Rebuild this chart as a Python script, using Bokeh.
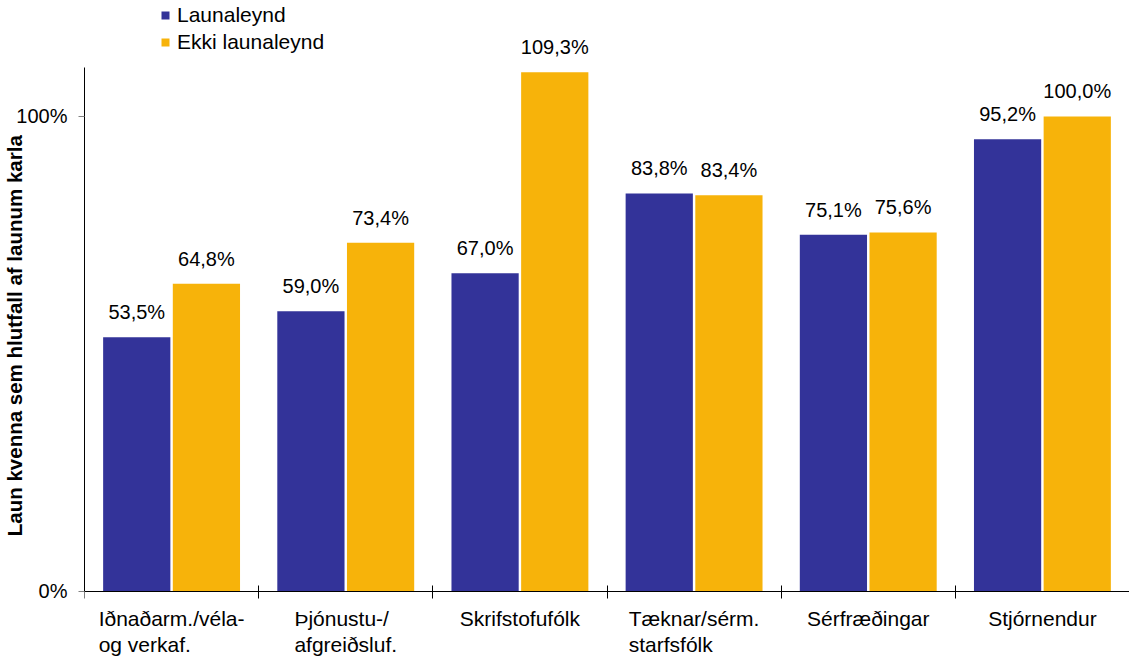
from bokeh.plotting import figure
from bokeh.models import (Range1d, FixedTicker, LinearAxis, ColumnDataSource, LabelSet, Legend, LegendItem)
from bokeh.embed import file_html
from bokeh.resources import INLINE
from bokeh.core.properties import value

categories = ["Iðnaðarm./véla-\nog verkaf.", "Þjónustu-/\nafgreiðsluf.", "Skrifstofufólk",
              "Tæknar/sérm.\nstarfsfólk", "Sérfræðingar", "Stjórnendur"]
series_names = ["Launaleynd", "Ekki launaleynd"]
launaleynd = [53.5, 59.0, 67.0, 83.8, 75.1, 95.2]
ekki_launaleynd = [64.8, 73.4, 109.3, 83.4, 75.6, 100.0]
y_ticks = [0, 100]
y_tick_labels = ["0%", "100%"]
y_title = "Laun kvenna sem hlutfall af launum karla"

BLUE = "#333399"
YELLOW = "#F7B30A"
FONT = "Liberation Sans"

n = len(categories)
centers = [i + 0.5 for i in range(n)]
boundaries = list(range(n + 1))
off = 0.2
width = 0.386

def fmt(v):
    return ("%.1f" % v).replace(".", ",") + "%"

src_a = ColumnDataSource(dict(x=[c - off for c in centers], top=launaleynd,
                              lab=[fmt(v) for v in launaleynd]))
src_b = ColumnDataSource(dict(x=[c + off for c in centers], top=ekki_launaleynd,
                              lab=[fmt(v) for v in ekki_launaleynd]))
src_cat = ColumnDataSource(dict(x=centers, y=[0] * n, lab=categories))

p = figure(width=1129, height=659, x_range=Range1d(0, n), y_range=Range1d(-14.32, 124.42),
           output_backend="svg", toolbar_location=None, x_axis_type=None, y_axis_type=None,
           min_border_left=77, min_border_right=0, min_border_top=0, min_border_bottom=0)
p.outline_line_color = None
p.grid.visible = False
p.background_fill_color = "white"
p.border_fill_color = "white"

ra = p.vbar(x="x", top="top", width=width, bottom=0, source=src_a, fill_color=BLUE, line_color=None)
rb = p.vbar(x="x", top="top", width=width, bottom=0, source=src_b, fill_color=YELLOW, line_color=None)

for src in (src_a, src_b):
    p.add_layout(LabelSet(x="x", y="top", text="lab", source=src, text_align="center",
                          text_baseline="middle", y_offset=25, text_font=value(FONT),
                          text_font_size="20px", text_color="#000000"))

# category labels under the x axis line
p.add_layout(LabelSet(x="x", y="y", text="lab", source=src_cat, text_align="center",
                      text_baseline="top", y_offset=-16, text_font=value(FONT),
                      text_font_size="21px", text_color="#000000", text_line_height=1.13))

# y axis
yaxis = LinearAxis(ticker=FixedTicker(ticks=y_ticks, minor_ticks=[]), bounds=(0, 110.3))
yaxis.major_label_overrides = {t: l for t, l in zip(y_ticks, y_tick_labels)}
yaxis.major_tick_in = 0
yaxis.major_tick_out = 6
yaxis.major_tick_line_color = "#808080"
yaxis.minor_tick_line_color = None
yaxis.axis_line_color = "#000000"
yaxis.major_label_text_font = FONT
yaxis.major_label_text_font_size = "20px"
yaxis.major_label_text_color = "#000000"
yaxis.major_label_standoff = 11
yaxis.axis_label = y_title + "\u00a0" * 2
yaxis.axis_label_text_font = FONT
yaxis.axis_label_text_font_size = "20.5px"
yaxis.axis_label_text_font_style = "bold"
yaxis.axis_label_text_color = "#000000"
yaxis.axis_label_standoff = -13
p.add_layout(yaxis, "left")

# x axis line at y=0 with boundary ticks pointing up
xaxis = LinearAxis(ticker=FixedTicker(ticks=[], minor_ticks=boundaries), fixed_location=0,
                   bounds=(0, n))
xaxis.major_tick_in = 0
xaxis.major_tick_out = 0
xaxis.minor_tick_in = 6
xaxis.minor_tick_out = 0
xaxis.minor_tick_line_color = "#000000"
xaxis.axis_line_color = "#000000"
xaxis.major_label_standoff = 0
xaxis.major_label_text_font_size = "0px"
p.add_layout(xaxis, "below")

# same boundary ticks continuing below the line
xaxis2 = LinearAxis(ticker=FixedTicker(ticks=[], minor_ticks=boundaries), fixed_location=0,
                    bounds=(0, n))
xaxis2.major_tick_in = 0
xaxis2.major_tick_out = 0
xaxis2.minor_tick_in = 7
xaxis2.minor_tick_out = 0
xaxis2.minor_tick_line_color = "#000000"
xaxis2.axis_line_color = None
xaxis2.major_label_standoff = 0
xaxis2.major_label_text_font_size = "0px"
p.add_layout(xaxis2, "above")

legend = Legend(items=[LegendItem(label=series_names[0], renderers=[ra]),
                       LegendItem(label=series_names[1], renderers=[rb])],
                location=(76, 605))
legend.glyph_width = 10
legend.glyph_height = 10
legend.label_height = 17
legend.label_standoff = 7
legend.spacing = 3
legend.padding = 0
legend.margin = 0
legend.border_line_color = None
legend.background_fill_alpha = 0
legend.label_text_font = FONT
legend.label_text_font_size = "21px"
legend.label_text_color = "#000000"
p.add_layout(legend, "center")

open("out.html", "w").write(file_html(p, INLINE))
